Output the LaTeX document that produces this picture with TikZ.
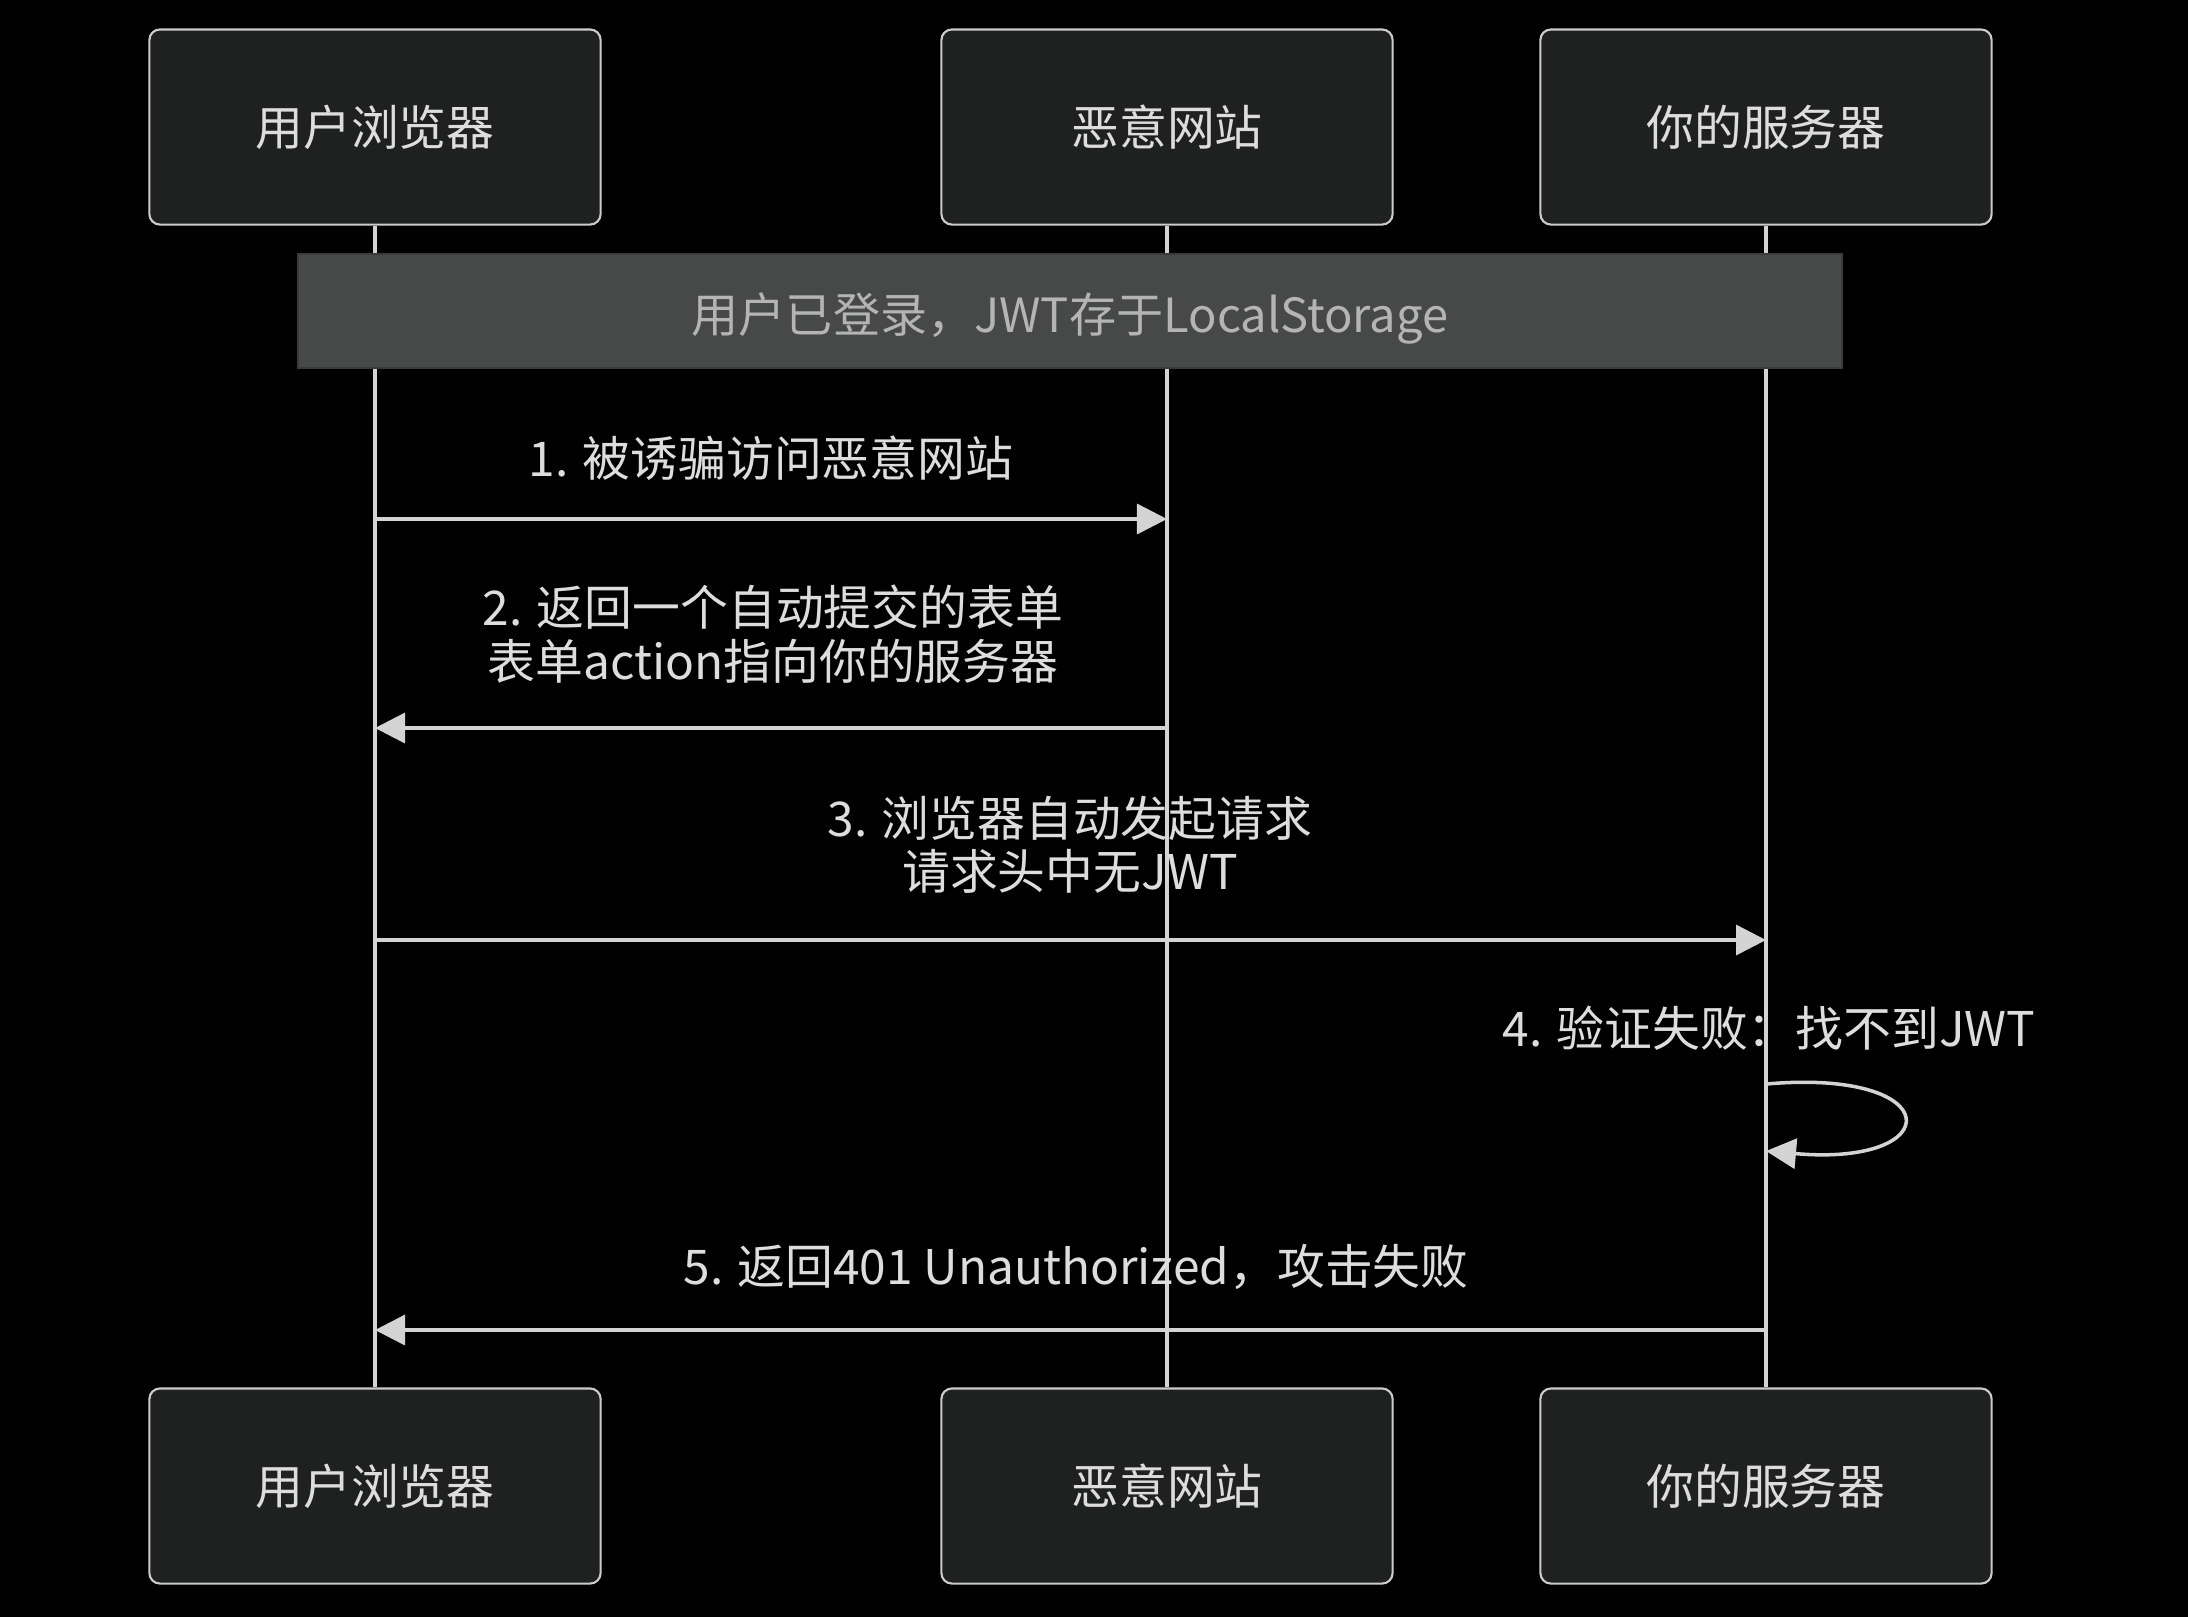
\documentclass[tikz,border=0pt]{standalone}
\usepackage{fontspec}
\setmainfont{Noto Sans CJK SC}
\definecolor{sqbg}{HTML}{000000}
\definecolor{sqbox}{HTML}{1F2020}
\definecolor{sqedge}{HTML}{CCCCCC}
\definecolor{sqline}{HTML}{D3D3D3}
\definecolor{sqtext}{HTML}{DDDDDD}
\definecolor{sqnote}{HTML}{474949}
\definecolor{sqnoteedge}{HTML}{3A3B3B}
\definecolor{sqnotetext}{HTML}{B4B4B4}
\usepackage{tikz}
\usetikzlibrary{arrows.meta, positioning}

\begin{document}
\begin{tikzpicture}[x=0.01cm, y=-0.01cm,
    actorbox/.style={rounded corners=3pt, minimum width=4.51cm, minimum height=1.95cm,
                 draw=sqedge, fill=sqbox, line width=0.6pt, text=sqtext,
                 font=\fontsize{13.6}{15}\selectfont},
    msglabel/.style={text=sqtext, align=center, inner sep=0pt,
                 font=\fontsize{13.6}{15.2}\selectfont},
    lifeline/.style={sqline, line width=1pt},
    msg/.style={-{Triangle[length=0.3cm, width=0.3cm]}, sqline, line width=1pt},
  ]
    \fill[sqbg] (0,0) rectangle (2188,1617);
    \useasboundingbox (0,0) rectangle (2188,1617);

    % actors, top and bottom
    \node[actorbox] (ub) at (375,127) {用户浏览器};
    \node[actorbox] (ew) at (1167,127) {恶意网站};
    \node[actorbox] (ys) at (1766,127) {你的服务器};
    \node[actorbox] (ubb) at (375,1486) {用户浏览器};
    \node[actorbox] (ewb) at (1167,1486) {恶意网站};
    \node[actorbox] (ysb) at (1766,1486) {你的服务器};
    \draw[lifeline] (ub.south) -- (ubb.north);
    \draw[lifeline] (ew.south) -- (ewb.north);
    \draw[lifeline] (ys.south) -- (ysb.north);

    % note over all lifelines
    \node[draw=sqnoteedge, fill=sqnote, line width=0.6pt, minimum width=15.43cm, minimum height=1.14cm] (login) at (1070,311) {};
    \node[text=sqnotetext, font=\fontsize{13.4}{15}\selectfont] (logintext) at (1070,318) {用户已登录，JWT存于LocalStorage};

    % messages
    \coordinate (m1) at (0,519);
    \coordinate (m2) at (0,728);
    \coordinate (m3) at (0,940);
    \coordinate (m4a) at (0,1084);
    \coordinate (m4b) at (0,1151);
    \coordinate (m5) at (0,1330);

    \node[msglabel] (l1) at (771,458) {1. 被诱骗访问恶意网站};
    \draw[msg] (ub |- m1) -- (ew |- m1);

    \node[msglabel] (l2) at (773,634) {2. 返回一个自动提交的表单\\表单action指向你的服务器};
    \draw[msg] (ew |- m2) -- (ub |- m2);

    \node[msglabel] (l3) at (1070,845) {3. 浏览器自动发起请求\\请求头中无JWT};
    \draw[msg] (ub |- m3) -- (ys |- m3);

    \node[msglabel] (l4) at (1769,1028) {4. 验证失败：找不到JWT};
    \draw[msg] (ys |- m4a) .. controls (1948,1068) and (1948,1167) .. (ys |- m4b);

    \node[msglabel] (l5) at (1076,1267) {5. 返回401 Unauthorized，攻击失败};
    \draw[msg] (ys |- m5) -- (ub |- m5);
  \end{tikzpicture}
\end{document}
